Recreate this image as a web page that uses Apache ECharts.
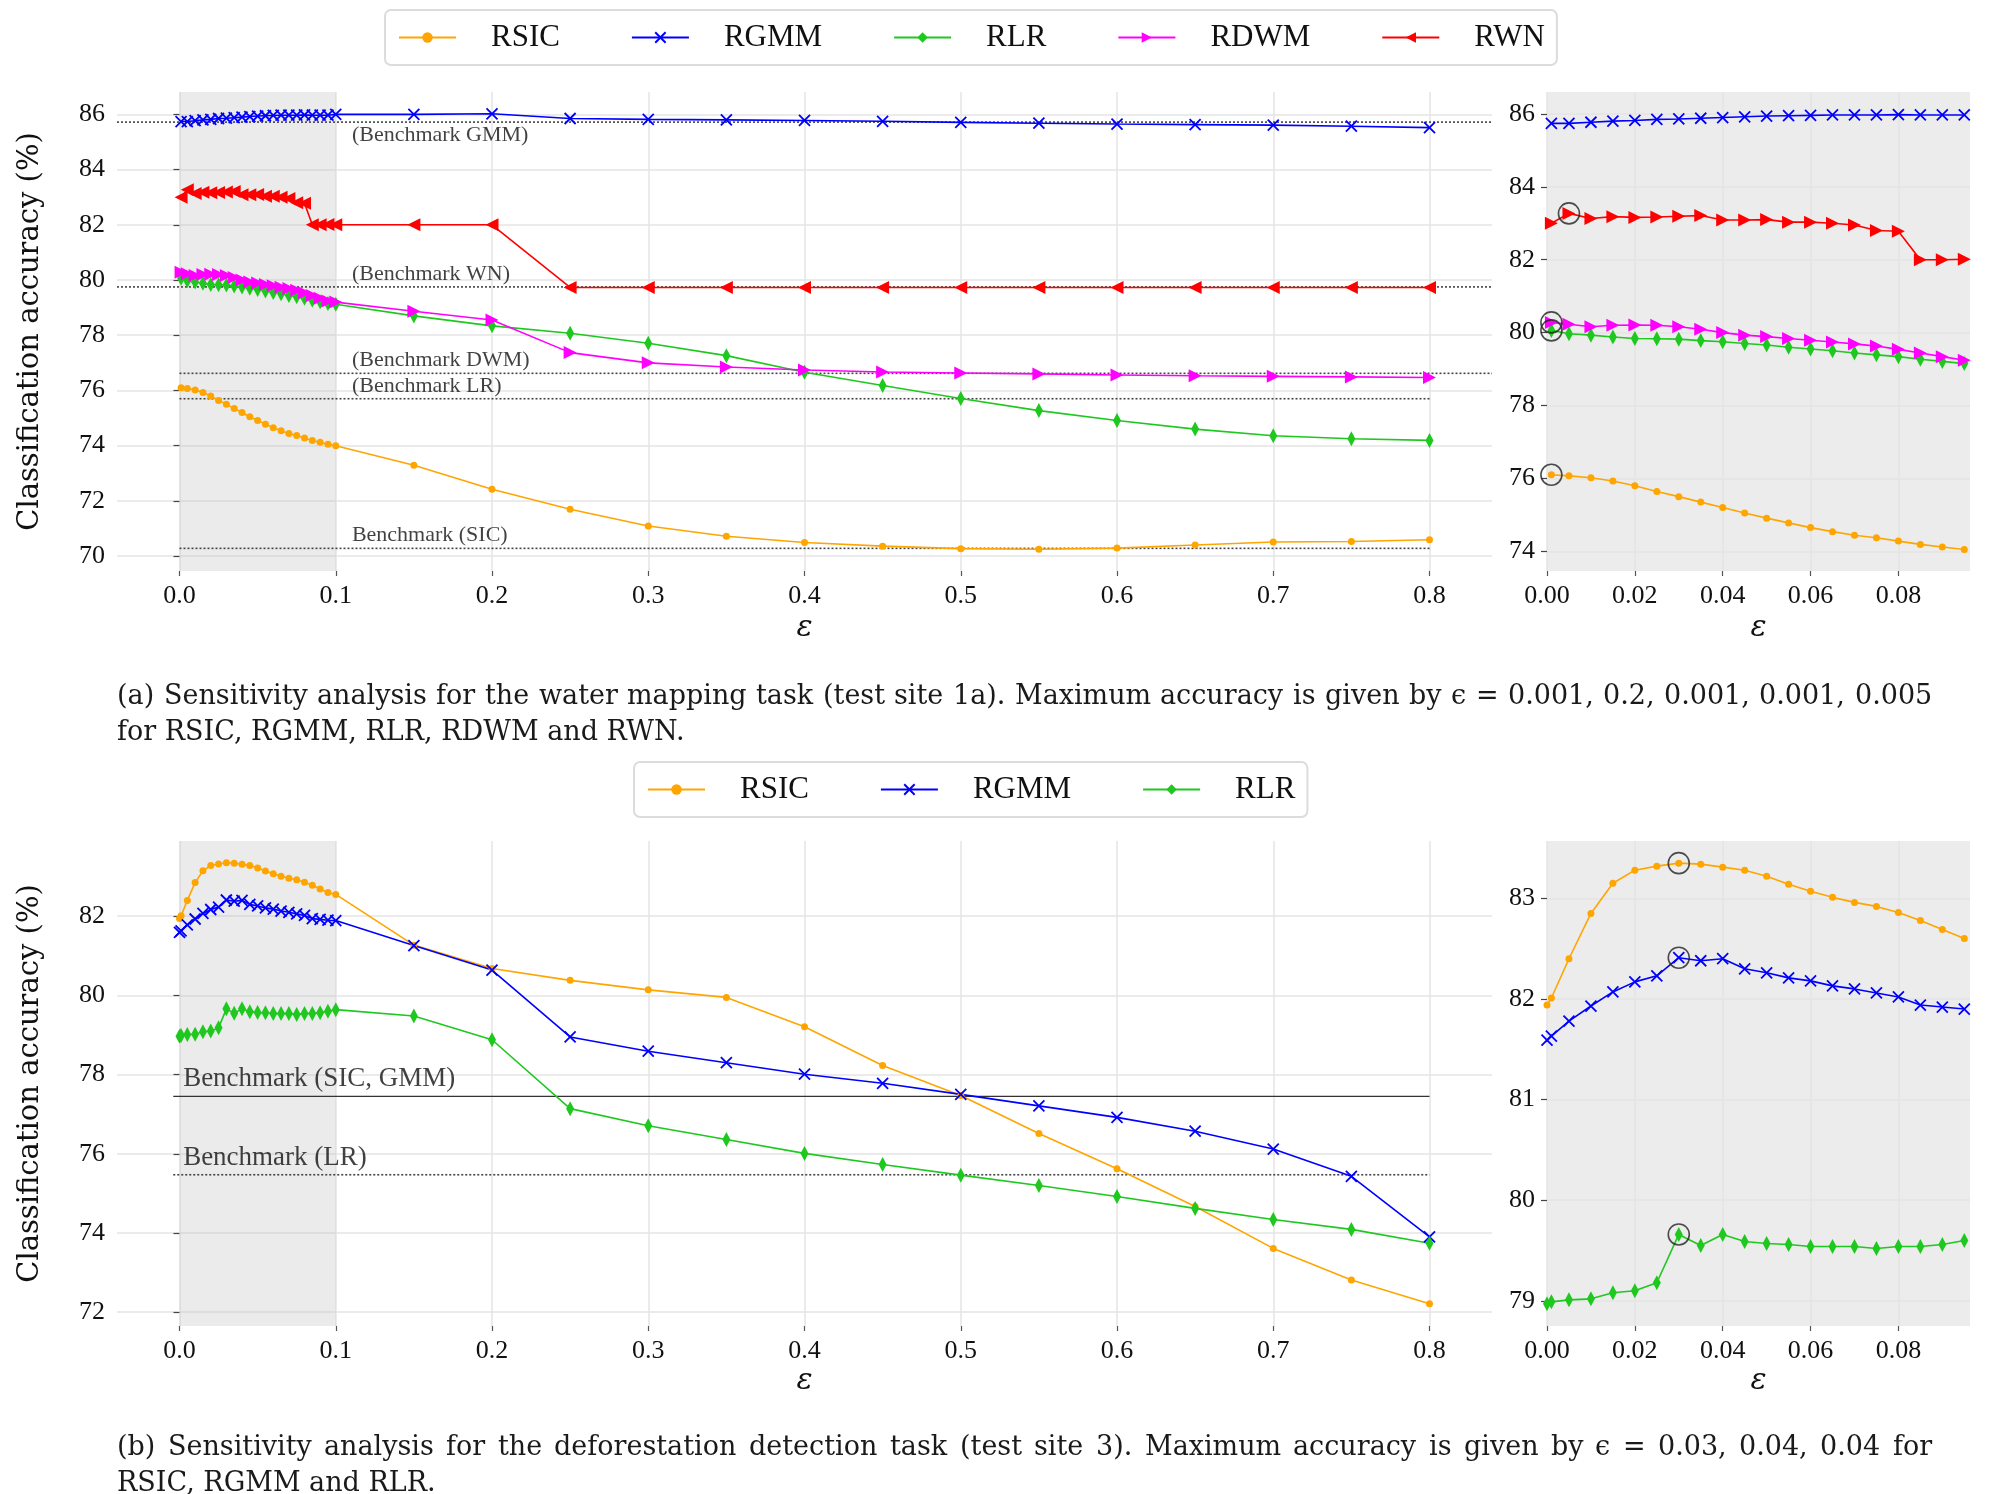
<!DOCTYPE html>
<html>
<head>
<meta charset="utf-8">
<script src="https://cdn.jsdelivr.net/npm/echarts@6/dist/echarts.min.js"></script>
<style>
  html, body { margin: 0; padding: 0; background: #fff; }
  #main { width: 1999px; height: 1494px; }
</style>
</head>
<body>
<div id="main"></div>
<script>
// epsilon values (top figure starts at 0.001, bottom one at 0)
const epsTop = [0.001, 0.005, 0.01, 0.015, 0.02, 0.025, 0.03, 0.035, 0.04, 0.045, 0.05, 0.055, 0.06, 0.065, 0.07, 0.075, 0.08, 0.085, 0.09, 0.095,
  0.1, 0.15, 0.2, 0.25, 0.3, 0.35, 0.4, 0.45, 0.5, 0.55, 0.6, 0.65, 0.7, 0.75, 0.8]
const epsBottom = [0, 0.001, 0.005, 0.01, 0.015, 0.02, 0.025, 0.03, 0.035, 0.04, 0.045, 0.05, 0.055, 0.06, 0.065, 0.07, 0.075, 0.08, 0.085, 0.09, 0.095,
  0.1, 0.15, 0.2, 0.25, 0.3, 0.35, 0.4, 0.45, 0.5, 0.55, 0.6, 0.65, 0.7, 0.75, 0.8]

// (a) water mapping
const rsicA = [76.10, 76.07, 76.02, 75.93, 75.80, 75.64, 75.50, 75.35, 75.20, 75.05, 74.91, 74.78, 74.65, 74.54, 74.44, 74.37, 74.28, 74.19, 74.12, 74.05,
  74.00, 73.29, 72.42, 71.70, 71.09, 70.72, 70.49, 70.36, 70.27, 70.25, 70.29, 70.40, 70.51, 70.53, 70.59]
const rgmmA = [85.74, 85.74, 85.77, 85.80, 85.82, 85.85, 85.86, 85.88, 85.90, 85.92, 85.94, 85.95, 85.96, 85.97, 85.97, 85.97, 85.98, 85.97, 85.97, 85.97,
  86.00, 86.00, 86.02, 85.85, 85.82, 85.80, 85.78, 85.75, 85.71, 85.68, 85.65, 85.63, 85.61, 85.57, 85.52]
const rlrA = [80.06, 79.97, 79.93, 79.88, 79.84, 79.83, 79.82, 79.78, 79.75, 79.70, 79.66, 79.60, 79.55, 79.50, 79.44, 79.39, 79.34, 79.27, 79.21, 79.15,
  79.12, 78.70, 78.34, 78.07, 77.71, 77.26, 76.66, 76.18, 75.71, 75.27, 74.91, 74.60, 74.36, 74.25, 74.19]
const rdwmA = [80.28, 80.23, 80.16, 80.20, 80.21, 80.20, 80.16, 80.09, 80.00, 79.93, 79.89, 79.84, 79.79, 79.74, 79.69, 79.63, 79.54, 79.44, 79.34, 79.24,
  79.20, 78.87, 78.55, 77.37, 77.00, 76.85, 76.74, 76.67, 76.63, 76.60, 76.56, 76.53, 76.51, 76.49, 76.47]
const rwnA = [83.00, 83.27, 83.13, 83.18, 83.16, 83.17, 83.19, 83.21, 83.09, 83.09, 83.10, 83.03, 83.03, 83.00, 82.95, 82.80, 82.78, 82.00, 82.00, 82.01,
  82.00, 82.00, 82.00, 79.73, 79.73, 79.73, 79.73, 79.73, 79.73, 79.73, 79.73, 79.73, 79.73, 79.73, 79.73]

// (b) deforestation
const rsicB = [81.94, 82.01, 82.40, 82.85, 83.15, 83.28, 83.32, 83.35, 83.34, 83.31, 83.28, 83.22, 83.14, 83.07, 83.01, 82.96, 82.92, 82.86, 82.78, 82.69, 82.60,
  82.55, 81.27, 80.68, 80.38, 80.14, 79.95, 79.21, 78.23, 77.47, 76.51, 75.62, 74.67, 73.61, 72.81, 72.21]
const rgmmB = [81.59, 81.63, 81.78, 81.93, 82.07, 82.17, 82.23, 82.41, 82.38, 82.40, 82.30, 82.26, 82.21, 82.18, 82.13, 82.10, 82.06, 82.02, 81.94, 81.92, 81.90,
  81.89, 81.26, 80.64, 78.95, 78.59, 78.30, 78.01, 77.78, 77.50, 77.21, 76.92, 76.57, 76.12, 75.43, 73.90]
const rlrB = [78.97, 78.99, 79.01, 79.02, 79.08, 79.10, 79.18, 79.66, 79.55, 79.66, 79.59, 79.57, 79.56, 79.54, 79.54, 79.54, 79.52, 79.54, 79.54, 79.56, 79.60,
  79.64, 79.48, 78.88, 77.14, 76.71, 76.36, 76.01, 75.73, 75.46, 75.20, 74.92, 74.62, 74.34, 74.09, 73.74]

// benchmarks
const benchA = [85.72, 79.75, 76.62, 75.70, 70.28]
const benchAText = ['(Benchmark GMM)', '(Benchmark WN)', '(Benchmark DWM)', '(Benchmark LR)', 'Benchmark (SIC)']
const benchB = [77.45, 75.47]
const benchBText = ['Benchmark (SIC, GMM)', 'Benchmark (LR)']

// circled maxima in the insets (index into the eps arrays)
const bestA = {RSIC: 0, RLR: 0, RDWM: 0, RWN: 1}
const bestB = {RSIC: 7, RGMM: 7, RLR: 7}

// ticks
const xTicksMain = [0, 0.1, 0.2, 0.3, 0.4, 0.5, 0.6, 0.7, 0.8]
const xTicksInset = [0, 0.02, 0.04, 0.06, 0.08]
const yTicksA = [70, 72, 74, 76, 78, 80, 82, 84, 86]
const yTicksAInset = [74, 76, 78, 80, 82, 84, 86]
const yTicksB = [72, 74, 76, 78, 80, 82]
const yTicksBInset = [79, 80, 81, 82, 83]

const captionA = ['(a) Sensitivity analysis for the water mapping task (test site 1a). Maximum accuracy is given by \u03f5 = 0.001, 0.2, 0.001, 0.001, 0.005',
  'for RSIC, RGMM, RLR, RDWM and RWN.']
const captionB = ['(b) Sensitivity analysis for the deforestation detection task (test site 3). Maximum accuracy is given by \u03f5 = 0.03, 0.04, 0.04 for',
  'RSIC, RGMM and RLR.']

const SERIF = 'Liberation Serif'
const CAPTION_FONT = '27px "DejaVu Serif"'
const MAIN_X = [-0.04, 0.84]
const INSET_X = [0, 0.0963]

const styles = {
  RSIC: {color: '#ffa500', symbol: 'circle', size: 7},
  RGMM: {color: '#0000ff', symbol: 'path://M0,0L10,10M10,0L0,10', size: 11, stroke: true},
  RLR: {color: '#1ec81e', symbol: 'diamond', size: [8, 15]},
  RDWM: {color: '#ff00ff', symbol: 'triangle', size: 13, rotate: -90},
  RWN: {color: '#ff0000', symbol: 'triangle', size: 13, rotate: 90}
}

const pairs = (xs, ys) => xs.map((x, i) => [x, ys[i]])
const insetPart = (xs, ys) => pairs(xs, ys).filter(p => p[0] < 0.099)

function lineSeries(name, data, gi, rotate) {
  const s = styles[name]
  return {
    name, type: 'line', xAxisIndex: gi, yAxisIndex: gi, data,
    symbol: s.symbol, symbolSize: s.size,
    symbolRotate: rotate !== undefined ? rotate : (s.rotate || 0),
    showAllSymbol: true,
    lineStyle: {color: s.color, width: 1.6},
    itemStyle: {color: s.color, borderColor: s.color, borderWidth: s.stroke ? 1.8 : 0},
    z: 5
  }
}

function benchLine(v, x0, x1, gi, solid) {
  return {
    type: 'line', xAxisIndex: gi, yAxisIndex: gi, data: [[x0, v], [x1, v]],
    symbol: 'none', silent: true,
    lineStyle: {color: solid ? '#333' : '#444', width: solid ? 1.4 : 1.6, type: solid ? 'solid' : [2, 2]},
    z: 3
  }
}

function benchLabel(text, x, v, gi, dy, size) {
  return {
    type: 'scatter', xAxisIndex: gi, yAxisIndex: gi, data: [[x, v]],
    symbolSize: 1, itemStyle: {color: 'rgba(0,0,0,0)'}, silent: true,
    label: {show: true, position: 'right', distance: 0, offset: [0, dy], formatter: text,
      fontFamily: SERIF, fontSize: size, color: '#111'},
    z: 4
  }
}

function circles(best, xs, ys, gi) {
  return {
    type: 'scatter', xAxisIndex: gi, yAxisIndex: gi,
    data: Object.keys(best).map(k => [xs[best[k]], ys[k][best[k]]]),
    symbol: 'circle', symbolSize: 21, silent: true,
    itemStyle: {color: 'rgba(0,0,0,0)', borderColor: '#222', borderWidth: 1.6},
    z: 8
  }
}

function xAxis(gi, ext, ticks, digits, gap) {
  return {
    gridIndex: gi, type: 'value', min: ext[0], max: ext[1],
    name: '\u03b5', nameLocation: 'middle', nameGap: gap,
    nameTextStyle: {fontFamily: 'DejaVu Serif', fontStyle: 'italic', fontSize: 30, color: '#111'},
    axisLine: {show: false},
    axisTick: {show: true, length: 5, customValues: ticks, lineStyle: {color: '#555', width: 1.2}},
    axisLabel: {customValues: ticks, formatter: v => v.toFixed(digits), fontFamily: SERIF, fontSize: 26, color: '#111', margin: 12},
    splitLine: {show: true, lineStyle: {color: '#e4e4e4', width: 1.5}}
  }
}

function yAxis(gi, ext, ticks, withName) {
  const ax = {
    gridIndex: gi, type: 'value', min: ext[0], max: ext[1],
    axisLine: {show: false},
    axisTick: {show: true, length: 6, customValues: ticks, lineStyle: {color: '#444', width: 1.2}},
    axisLabel: {customValues: ticks, fontFamily: SERIF, fontSize: 26, color: '#111', margin: 12},
    splitLine: {show: true, lineStyle: {color: '#e4e4e4', width: 1.5}}
  }
  if (withName) {
    ax.name = 'Classification accuracy (%)'
    ax.nameLocation = 'middle'
    ax.nameGap = 72
    ax.nameTextStyle = {fontFamily: 'DejaVu Serif', fontSize: 29, color: '#111'}
  }
  return ax
}

const legendBase = {
  orient: 'horizontal', itemWidth: 57, itemHeight: 13, itemGap: 71,
  padding: [12, 12, 12, 13],
  backgroundColor: '#fff', borderColor: '#dcdcdc', borderWidth: 2, borderRadius: 6,
  textStyle: {fontFamily: SERIF, fontSize: 31, color: '#111', padding: [0, 0, 0, 30]},
  selectedMode: false
}

// captions: first line justified like the LaTeX paragraph, second line ragged
const measureCtx = document.createElement('canvas').getContext('2d')
measureCtx.font = CAPTION_FONT
const CAPTION_LEFT = 117
const CAPTION_RIGHT = 1932

function caption(lines, y0) {
  const out = []
  const words = lines[0].split(' ')
  const widths = words.map(w => measureCtx.measureText(w).width)
  const total = widths.reduce((a, b) => a + b, 0)
  const gap = (CAPTION_RIGHT - CAPTION_LEFT - total) / (words.length - 1)
  let x = CAPTION_LEFT
  words.forEach((w, i) => {
    out.push({type: 'text', left: Math.round(x), top: y0, style: {text: w, font: CAPTION_FONT, fill: '#1a1a1a'}})
    x += widths[i] + gap
  })
  out.push({type: 'text', left: CAPTION_LEFT, top: y0 + 36, style: {text: lines[1], font: CAPTION_FONT, fill: '#1a1a1a'}})
  return out
}

const seriesA = {RSIC: rsicA, RGMM: rgmmA, RLR: rlrA, RDWM: rdwmA, RWN: rwnA}
const seriesB = {RSIC: rsicB, RGMM: rgmmB, RLR: rlrB}

const series = []
// (a) main
Object.keys(seriesA).forEach(k => series.push(lineSeries(k, pairs(epsTop, seriesA[k]), 0)))
// (b) main
Object.keys(seriesB).forEach(k => series.push(lineSeries(k, pairs(epsBottom, seriesB[k]), 2)))
// (a) inset, triangles all point right here
Object.keys(seriesA).forEach(k => series.push(lineSeries(k, insetPart(epsTop, seriesA[k]), 1, k === 'RWN' ? -90 : undefined)))
// (b) inset
Object.keys(seriesB).forEach(k => series.push(lineSeries(k, insetPart(epsBottom, seriesB[k]), 3)))

// shaded 0 - 0.1 band in main panels
;[0, 2].forEach(gi => series.push({
  type: 'line', xAxisIndex: gi, yAxisIndex: gi, data: [], silent: true,
  markArea: {silent: true, itemStyle: {color: 'rgba(190,190,190,0.3)'}, data: [[{xAxis: 0}, {xAxis: 0.1}]]},
  z: 1
}))

// benchmarks (a)
series.push(benchLine(benchA[0], MAIN_X[0], MAIN_X[1], 0))
series.push(benchLine(benchA[1], MAIN_X[0], MAIN_X[1], 0))
series.push(benchLine(benchA[2], 0, MAIN_X[1], 0))
series.push(benchLine(benchA[3], 0, 0.8, 0))
series.push(benchLine(benchA[4], 0, 0.8, 0))
benchA.forEach((v, i) => series.push(benchLabel(benchAText[i], 0.11, v, 0, i === 0 ? 13 : -13, 22)))
// benchmarks (b)
series.push(benchLine(benchB[0], -0.004, 0.8, 2, true))
series.push(benchLine(benchB[1], -0.004, 0.8, 2))
benchB.forEach((v, i) => series.push(benchLabel(benchBText[i], 0.002, v, 2, -17, 27)))

// circled maxima
series.push(circles(bestA, epsTop, seriesA, 1))
series.push(circles(bestB, epsBottom, seriesB, 3))

const myChart = echarts.init(document.getElementById('main'), null, {renderer: 'canvas'})
myChart.setOption({
  animation: false,
  backgroundColor: '#fff',
  grid: [
    {left: 117, top: 92, width: 1375, height: 479},
    {left: 1547, top: 92, width: 423, height: 479, show: true, backgroundColor: '#ececec', borderWidth: 0},
    {left: 117, top: 841, width: 1375, height: 485},
    {left: 1547, top: 841, width: 423, height: 485, show: true, backgroundColor: '#ececec', borderWidth: 0}
  ],
  xAxis: [
    xAxis(0, MAIN_X, xTicksMain, 1, 42),
    xAxis(1, INSET_X, xTicksInset, 2, 42),
    xAxis(2, MAIN_X, xTicksMain, 1, 40),
    xAxis(3, INSET_X, xTicksInset, 2, 40)
  ],
  yAxis: [
    yAxis(0, [69.46, 86.81], yTicksA, true),
    yAxis(1, [73.46, 86.6], yTicksAInset, false),
    yAxis(2, [71.65, 83.9], yTicksB, true),
    yAxis(3, [78.75, 83.57], yTicksBInset, false)
  ],
  legend: [
    Object.assign({}, legendBase, {left: 385, top: 10, data: ['RSIC', 'RGMM', 'RLR', 'RDWM', 'RWN']}),
    Object.assign({}, legendBase, {left: 634, top: 762, data: ['RSIC', 'RGMM', 'RLR']})
  ],
  graphic: caption(captionA, 683).concat(caption(captionB, 1434)),
  series
})
</script>
</body>
</html>
